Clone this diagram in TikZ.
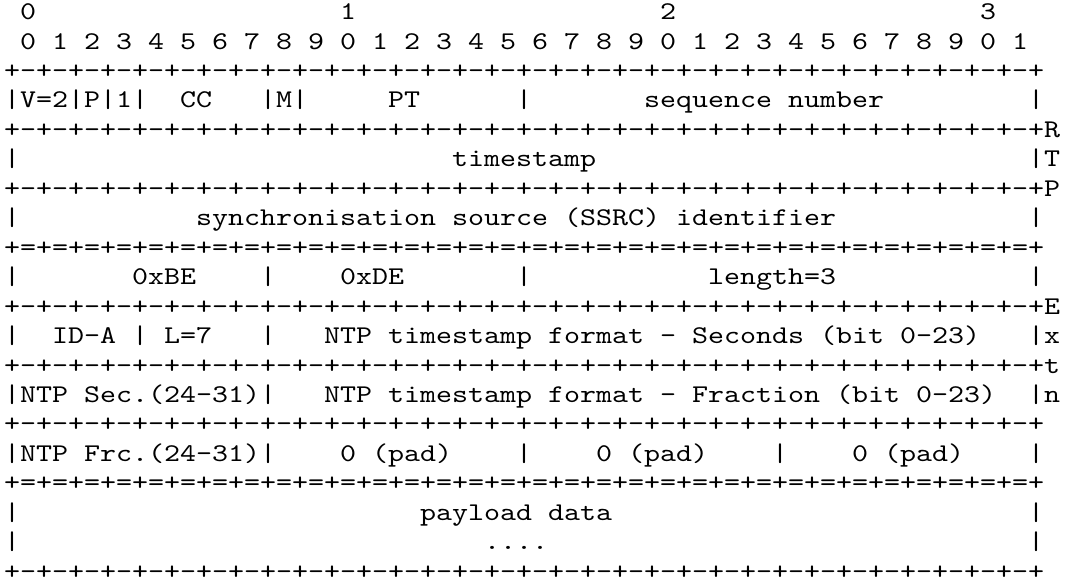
\documentclass[tikz,border=0pt]{standalone}
\usepackage{fontspec}
\usepackage{tikz}
\newfontfamily\asciifont{lmmono10-regular}[Extension=.otf, FakeStretch=1.1951]
\newcommand\gap[1]{\hspace*{\dimexpr#1\fontcharwd\font`M\relax}}
\newcommand\dashrow{+-+-+-+-+-+-+-+-%
+-+-+-+-+-+-+-+-%
+-+-+-+-+-+-+-+-%
+-+-+-+-+-+-+-+-+}
\newcommand\eqrow{+=+=+=+=+=+=+=+=%
+=+=+=+=+=+=+=+=%
+=+=+=+=+=+=+=+=%
+=+=+=+=+=+=+=+=+}

\begin{document}
\begin{tikzpicture}[x=1pt, y=1pt, txt/.style={anchor=base west, inner sep=0pt, font=\asciifont\fontsize{25.5}{29.45}\selectfont}]
    \useasboundingbox (0,0) rectangle (1066,-582);
    \node[txt] (tens) at (4,-19.6) {\gap{1}0\gap{19}1\gap{19}2\gap{19}3};
    \node[txt] (bits) at (4,-49.05) {~0~1~2~3~4~5~6~7~8~9~0~1~2~3~4~5~6~7~8~9~0~1~2~3~4~5~6~7~8~9~0~1};
    \node[txt] (ruleTop) at (4,-78.5) {\dashrow};
    \node[txt] (rowFixed) at (4,-107.95) {|V=2|P|1|~~CC\gap{3}|M|\gap{5}PT\gap{6}|\gap{7}sequence~number\gap{9}|};
    \node[txt] (ruleR) at (4,-137.4) {\dashrow R};
    \node[txt] (rowTs) at (4,-166.85) {|\gap{27}timestamp\gap{27}|T};
    \node[txt] (ruleP) at (4,-196.3) {\dashrow P};
    \node[txt] (rowSsrc) at (4,-225.75) {|\gap{11}synchronisation~source~(SSRC)~identifier\gap{12}|};
    \node[txt] (eqHdr) at (4,-255.2) {\eqrow};
    \node[txt] (rowProfile) at (4,-284.65) {|\gap{7}0xBE\gap{4}|\gap{4}0xDE\gap{7}|\gap{11}length=3\gap{12}|};
    \node[txt] (ruleE) at (4,-314.1) {\dashrow E};
    \node[txt] (rowSec) at (4,-343.55) {|~~ID-A~|~L=7~~~|~~~NTP~timestamp~format~-~Seconds~(bit~0-23)~~~|x};
    \node[txt] (ruleT) at (4,-373) {\dashrow t};
    \node[txt] (rowFrac) at (4,-402.45) {|NTP~Sec.(24-31)|~~~NTP~timestamp~format~-~Fraction~(bit~0-23)~~|n};
    \node[txt] (ruleMid) at (4,-431.9) {\dashrow};
    \node[txt] (rowPad) at (4,-461.35) {|NTP~Frc.(24-31)|~~~~0~(pad)~~~~|~~~~0~(pad)~~~~|~~~~0~(pad)~~~~|};
    \node[txt] (eqExt) at (4,-490.8) {\eqrow};
    \node[txt] (rowPayload) at (4,-520.25) {|\gap{25}payload~data\gap{26}|};
    \node[txt] (rowDots) at (4,-549.7) {|\gap{29}....\gap{30}|};
    \node[txt] (ruleEnd) at (4,-579.15) {\dashrow};
\end{tikzpicture}
\end{document}
